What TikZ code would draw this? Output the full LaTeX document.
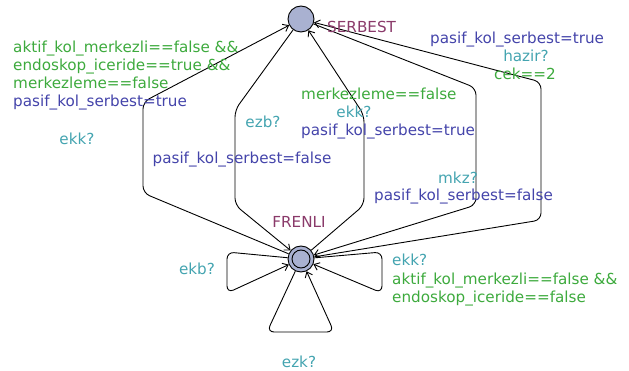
\documentclass[tikz,border=0pt]{standalone}
\usepackage{fontspec}
\setmainfont{DejaVu Sans}
\usetikzlibrary{arrows.meta}
\definecolor{gcol}{HTML}{3DAA3D}
\definecolor{acol}{HTML}{4444AA}
\definecolor{scol}{HTML}{44A4B0}
\definecolor{ncol}{HTML}{8A3A6A}
\definecolor{locfill}{HTML}{A9B1D1}
\begin{document}
\begin{tikzpicture}[x=1pt,y=-1pt,
  loc/.style={circle,draw=black,fill=locfill,line width=0.9pt,minimum size=26pt,inner sep=0pt},
  edge/.style={draw=black,line width=0.9pt,rounded corners=7pt,-{Straight Barb[length=5pt,width=8pt]}},
  lbl/.style={inner sep=0pt,font=\fontsize{15.2}{18}\selectfont},
  guard/.style={lbl,text=gcol},
  assign/.style={lbl,text=acol},
  sync/.style={lbl,text=scol},
  lname/.style={lbl,text=ncol}]
\useasboundingbox (0,0) rectangle (629,371);
\node[loc] (S) at (301,19) {};
\node[loc] (F) at (301,259) {};
\draw[line width=0.9pt] (F) circle (9pt);
% edges
\draw[edge] (F) -- (143,193) -- (143,102) -- (S);
\draw[edge] (S) -- (235,110) -- (235,205) -- (F);
\draw[edge] (F) -- (364,205) -- (364,115) -- (S);
\draw[edge] (S) -- (476,88) -- (476,205) -- (F);
\draw[edge] (F) -- (541,220) -- (541,82) -- (S);
% loops
\draw[edge] (F) -- (227,252) -- (227,293) -- (F);
\draw[edge] (F) -- (267,332) -- (334,332) -- (F);
\draw[edge] (F) -- (382,252) -- (382,293) -- (F);
% names
\node[lname,anchor=base west] (nS) at (327,33) {SERBEST};
\node[lname,anchor=base] (nF) at (299,228) {FRENLI};
% labels edge A
\node[guard,anchor=base west] (a1) at (13,53) {aktif\_kol\_merkezli==false \&\&};
\node[guard,anchor=base west] (a2) at (13,71) {endoskop\_iceride==true \&\&};
\node[guard,anchor=base west] (a3) at (13,89) {merkezleme==false};
\node[assign,anchor=base west] (a4) at (13,107) {pasif\_kol\_serbest=true};
\node[sync,anchor=base] (a5) at (77,145) {ekk?};
% edge B
\node[sync,anchor=base] (b1) at (263,128) {ezb?};
\node[assign,anchor=base] (b2) at (242,164) {pasif\_kol\_serbest=false};
% edge C
\node[guard,anchor=base west] (c1) at (301,100) {merkezleme==false};
\node[sync,anchor=base] (c2) at (354,118) {ekk?};
\node[assign,anchor=base west] (c3) at (301,136) {pasif\_kol\_serbest=true};
% edge D
\node[sync,anchor=base] (d1) at (458,184) {mkz?};
\node[assign,anchor=base west] (d2) at (374,201) {pasif\_kol\_serbest=false};
% edge E
\node[assign,anchor=base west] (e1) at (430,44) {pasif\_kol\_serbest=true};
\node[sync,anchor=base] (e2) at (526,62) {hazir?};
\node[guard,anchor=base] (e3) at (525,80) {cek==2};
% loops
\node[sync,anchor=base] (l1) at (197,275) {ekb?};
\node[sync,anchor=base] (l2) at (299,367) {ezk?};
\node[sync,anchor=base west] (r1) at (392,266) {ekk?};
\node[guard,anchor=base west] (r2) at (392,284) {aktif\_kol\_merkezli==false \&\&};
\node[guard,anchor=base west] (r3) at (392,302) {endoskop\_iceride==false};
\end{tikzpicture}
\end{document}
